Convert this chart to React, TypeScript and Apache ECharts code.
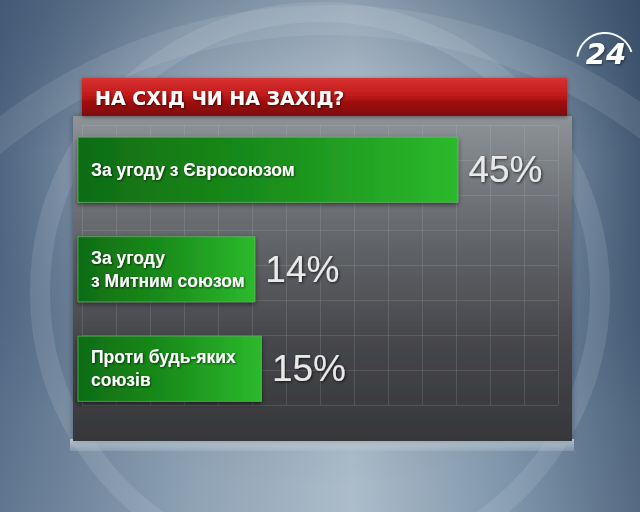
import React, { useEffect, useRef } from "react";
import * as echarts from "echarts";

const title = "НА СХІД ЧИ НА ЗАХІД?";
const categories = [
  "За угоду з Євросоюзом",
  "За угоду\nз Митним союзом",
  "Проти будь-яких\nсоюзів",
];
const values = [45, 14, 15];
const logoText = "24";

const FONT = '"Liberation Sans", Arial, sans-serif';
const WIDE = '"DejaVu Sans", sans-serif';
const X_MIN = -13;
const X_MAX = 61.5;

function lg(x: number, y: number, x2: number, y2: number, stops: [number, string][]) {
  return new echarts.graphic.LinearGradient(
    x, y, x2, y2,
    stops.map(([offset, color]) => ({ offset, color }))
  );
}

export default function App() {
  const ref = useRef<HTMLDivElement>(null);
  useEffect(() => {
    const chart = echarts.init(ref.current!, null, { renderer: "svg" });
    const meshLine = { show: true, lineStyle: { color: "rgba(210,215,220,0.15)", width: 1 } };
    const barFill = lg(0, 0, 1, 0, [[0, "#0f6c12"], [0.5, "#1a8e1b"], [1, "#2cba2c"]]);
    chart.setOption({
      animation: false,
      grid: [
        { left: 78, right: 74, top: 120, height: 298.5 },
        { left: 82, width: 476, top: 125, height: 280 },
      ],
      xAxis: [
        { type: "value", gridIndex: 0, min: X_MIN, max: X_MAX, show: false, splitLine: { show: false } },
        {
          type: "value", gridIndex: 1, min: 0, max: 14, interval: 1,
          axisLine: { show: false }, axisTick: { show: false }, axisLabel: { show: false },
          splitLine: meshLine,
        },
      ],
      yAxis: [
        {
          type: "category", gridIndex: 0, data: categories, inverse: true, z: 10,
          axisLine: { show: false }, axisTick: { show: false }, splitLine: { show: false },
          axisLabel: {
            inside: true, margin: 13, align: "left", color: "#ffffff",
            fontFamily: FONT, fontWeight: "bold", fontSize: 17.5, lineHeight: 23,
            textShadowColor: "rgba(0,0,0,0.6)", textShadowBlur: 2, textShadowOffsetX: 1, textShadowOffsetY: 1,
          },
        },
        {
          type: "value", gridIndex: 1, min: 0, max: 8, interval: 1,
          axisLine: { show: false }, axisTick: { show: false }, axisLabel: { show: false },
          splitLine: meshLine,
        },
      ],
      series: [
        {
          type: "custom", xAxisIndex: 0, yAxisIndex: 0, z: 3,
          data: values.map((v, i) => [v, i]),
          encode: { x: 0, y: 1 },
          renderItem: (params: any, api: any) => {
            const v = api.value(0);
            const idx = api.value(1);
            const start = api.coord([X_MIN, idx]);
            const end = api.coord([v, idx]);
            const h = api.size([0, 1])[1] * 0.655;
            return {
              type: "rect",
              shape: { x: start[0], y: start[1] - h / 2, width: end[0] - start[0], height: h },
              style: {
                fill: barFill,
                stroke: "rgba(110,200,110,0.55)", lineWidth: 1,
                shadowColor: "rgba(0,0,0,0.55)", shadowBlur: 5, shadowOffsetY: 2,
              },
              textContent: {
                style: {
                  text: v + "%",
                  fill: "#e9e9e9", fontFamily: FONT, fontSize: 37,
                  textShadowColor: "rgba(0,0,0,0.7)", textShadowBlur: 3,
                  textShadowOffsetX: 1, textShadowOffsetY: 1,
                },
              },
              textConfig: { position: "right", distance: 10 },
            };
          },
        },
      ],
      graphic: [
        {
          type: "rect", z: -20, silent: true,
          shape: { x: 0, y: 0, width: 640, height: 512 },
          style: { fill: lg(0, 0, 1, 0, [[0, "#4c6380"], [0.3, "#8499ad"], [0.55, "#a9b9c7"], [0.8, "#7089a1"], [1, "#3f5570"]]) },
        },
        {
          type: "rect", z: -19, silent: true,
          shape: { x: 0, y: 0, width: 640, height: 512 },
          style: {
            fill: new echarts.graphic.RadialGradient(0.5, 0.35, 0.6, [
              { offset: 0, color: "rgba(225,233,239,0.6)" },
              { offset: 0.6, color: "rgba(200,212,222,0.22)" },
              { offset: 1, color: "rgba(60,80,100,0)" },
            ]),
          },
        },
        {
          type: "rect", z: -19, silent: true,
          shape: { x: 0, y: 0, width: 640, height: 512 },
          style: { fill: lg(0, 0, 0, 1, [[0, "rgba(40,60,85,0.25)"], [0.3, "rgba(40,60,85,0)"], [0.8, "rgba(190,205,215,0.12)"], [1, "rgba(190,205,215,0.18)"]]) },
        },
        {
          type: "circle", z: -18, silent: true,
          shape: { cx: 330, cy: 550, r: 530 },
          style: { fill: "none", stroke: "rgba(235,242,247,0.1)", lineWidth: 30 },
        },
        {
          type: "circle", z: -18, silent: true,
          shape: { cx: 320, cy: 292, r: 280 },
          style: { fill: "none", stroke: "rgba(232,240,246,0.12)", lineWidth: 20 },
        },
        {
          type: "rect", z: -17, silent: true,
          shape: { x: 70, y: 439, width: 504, height: 12 },
          style: { fill: lg(0, 0, 0, 1, [[0, "rgba(215,226,234,0.85)"], [1, "rgba(180,196,208,0.3)"]]) },
        },
        {
          type: "rect", z: -16, silent: true,
          shape: { x: 73, y: 116, width: 499, height: 325 },
          style: {
            fill: lg(0, 0, 0, 1, [[0, "#8e9398"], [0.35, "#65686c"], [0.7, "#45464a"], [1, "#36373a"]]),
            shadowColor: "rgba(0,0,0,0.35)", shadowBlur: 6,
          },
        },
        {
          type: "rect", z: 5, silent: true,
          shape: { x: 82, y: 78, width: 485, height: 38 },
          style: {
            fill: lg(0, 0, 0, 1, [[0, "#d83232"], [0.45, "#c11b1b"], [0.6, "#a41111"], [1, "#7c0909"]]),
            shadowColor: "rgba(0,0,0,0.4)", shadowBlur: 4, shadowOffsetY: 1,
          },
        },
        {
          type: "text", z: 6, silent: true,
          style: {
            text: title, x: 95, y: 98,
            font: `bold 19px ${WIDE}`, fontSize: 19, fontWeight: "bold", fontFamily: WIDE,
            fill: "#ffffff", textVerticalAlign: "middle", verticalAlign: "middle",
            textShadowColor: "rgba(0,0,0,0.6)", textShadowBlur: 2, textShadowOffsetX: 1, textShadowOffsetY: 1,
          },
        },
        {
          type: "arc", z: 20, silent: true,
          shape: { cx: 605, cy: 61, r: 28, startAngle: 3.3, endAngle: 5.95, clockwise: true },
          style: { fill: "none", stroke: "#ffffff", lineWidth: 2, opacity: 0.95 },
        },
        {
          type: "text", z: 21, silent: true,
          style: {
            text: logoText, x: 606, y: 54,
            font: `italic bold 29px ${WIDE}`, fontSize: 29, fontWeight: "bold", fontStyle: "italic", fontFamily: WIDE,
            fill: "#ffffff", textAlign: "center", align: "center", textVerticalAlign: "middle", verticalAlign: "middle",
            textShadowColor: "rgba(0,0,0,0.5)", textShadowBlur: 3, textShadowOffsetX: 1, textShadowOffsetY: 1,
          },
        },
      ],
    });
    return () => chart.dispose();
  }, []);
  return <div ref={ref} style={{ position: "fixed", left: 0, top: 0, width: 640, height: 512 }} />;
}
